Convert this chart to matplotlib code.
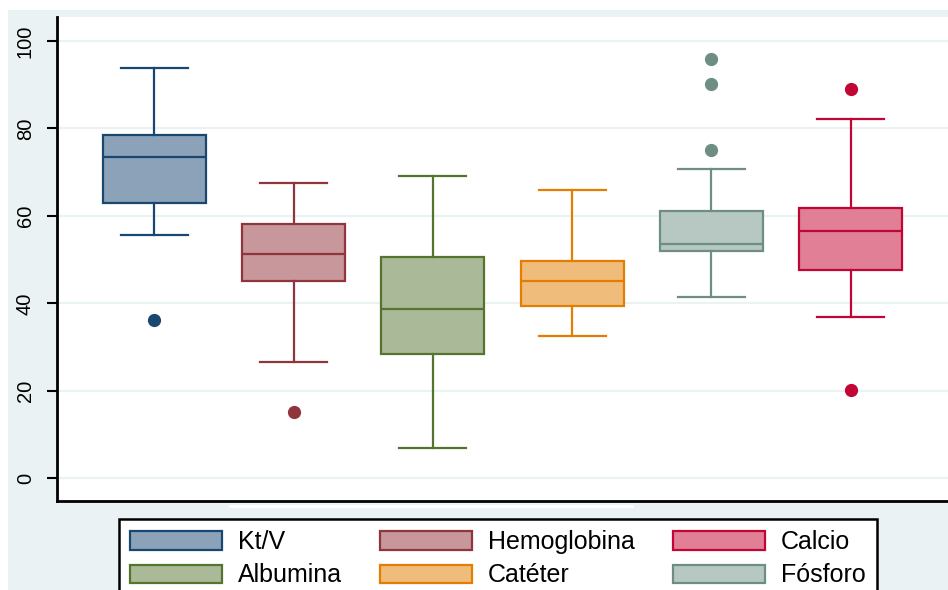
import matplotlib
matplotlib.use("Agg")
from matplotlib import pyplot as plt
from matplotlib.patches import Rectangle
from matplotlib.lines import Line2D

plt.rcParams['font.family'] = ['Liberation Sans', 'DejaVu Sans']

# variables, in plotting order
names = ["Kt/V", "Hemoglobina", "Albumina", "Catéter", "Fósforo", "Calcio"]
whislo = [55.6, 26.7, 6.9, 32.5, 41.4, 36.8]
q1 = [62.9, 45.1, 28.4, 39.4, 52.0, 47.7]
med = [73.4, 51.4, 38.8, 45.1, 53.5, 56.6]
q3 = [78.6, 58.2, 50.7, 49.8, 61.2, 61.8]
whishi = [93.8, 67.5, 69.2, 66.0, 70.8, 82.2]
fliers = [[36.2], [15.1], [], [], [95.9, 90.2, 75.0], [89.1, 20.2]]

yticks = [0, 20, 40, 60, 80, 100]

# stata s2color style
line_col = ["#1a476f", "#90353b", "#55752f", "#e37e00", "#6e8e84", "#c10534"]
fill_col = ["#8ca2b8", "#c8979b", "#aab997", "#f0bc7c", "#b7c7c1", "#e07f96"]
bg = "#eaf2f3"

fig = plt.figure(figsize=(9.48, 5.90), dpi=100)
fig.patch.set_facecolor("white")
fig.patches.append(Rectangle((8 / 948, 0), 1, 1 - 10 / 590, transform=fig.transFigure,
                             facecolor=bg, edgecolor="none", zorder=-10))

ax = fig.add_axes([57 / 948, 89 / 590, 891 / 948, 484 / 590])
ax.set_facecolor("white")

stats = []
for i in range(len(names)):
    stats.append(dict(label=names[i], whislo=whislo[i], q1=q1[i], med=med[i],
                      q3=q3[i], whishi=whishi[i], fliers=fliers[i]))

pos = list(range(1, len(names) + 1))
bp = ax.bxp(stats, positions=pos, widths=0.74, capwidths=0.48,
            patch_artist=True, showfliers=True, manage_ticks=False)

for i in range(len(names)):
    c = line_col[i]
    bp['boxes'][i].set(facecolor=fill_col[i], edgecolor=c, linewidth=1.6, zorder=3)
    bp['medians'][i].set(color=c, linewidth=1.6, zorder=4)
    for ln in bp['whiskers'][2 * i:2 * i + 2] + bp['caps'][2 * i:2 * i + 2]:
        ln.set(color=c, linewidth=1.6, zorder=3)
    bp['fliers'][i].set(marker="o", markerfacecolor=c, markeredgecolor=c,
                        markersize=8.5, zorder=4)

ax.set_xlim(0.3015, 6.698)
ax.set_ylim(-5.2, 105.5)
ax.set_yticks(yticks)
ax.set_yticklabels([str(t) for t in yticks], rotation=90, va="center", fontsize=14.5)
ax.yaxis.grid(True, color=bg, linewidth=1.6, zorder=0)
ax.set_axisbelow(True)
ax.set_xticks([])
ax.tick_params(axis="y", length=7, width=1.5, pad=9, colors="black")

for s in ["top", "right"]:
    ax.spines[s].set_visible(False)
ax.spines["left"].set_linewidth(2)
ax.spines["bottom"].set_linewidth(2)

# legend: column-major so rows read Kt/V, Hemoglobina, Calcio / Albumina, Catéter, Fósforo
order = [0, 2, 1, 3, 5, 4]
handles = [Rectangle((0, 0), 1, 1, facecolor=fill_col[k], edgecolor=line_col[k], linewidth=1.6)
           for k in order]
labels = [names[k] for k in order]
leg = fig.legend(handles, labels, ncol=3, loc="upper left",
                 bbox_to_anchor=(119 / 948, 1 - 519 / 590),
                 fontsize=18, frameon=True, fancybox=False, framealpha=1,
                 handlelength=3.68, handleheight=0.76, handletextpad=0.64,
                 columnspacing=1.52, labelspacing=0.38, borderpad=0.44,
                 borderaxespad=0)
leg.get_frame().set_edgecolor("black")
leg.get_frame().set_linewidth(1.8)

# thin light strip under the axis
fig.lines.append(Line2D([230 / 948, 632 / 948], [1 - 506 / 590, 1 - 506 / 590],
                        transform=fig.transFigure, color="white", linewidth=2))

fig.savefig("out.png", dpi=100)
